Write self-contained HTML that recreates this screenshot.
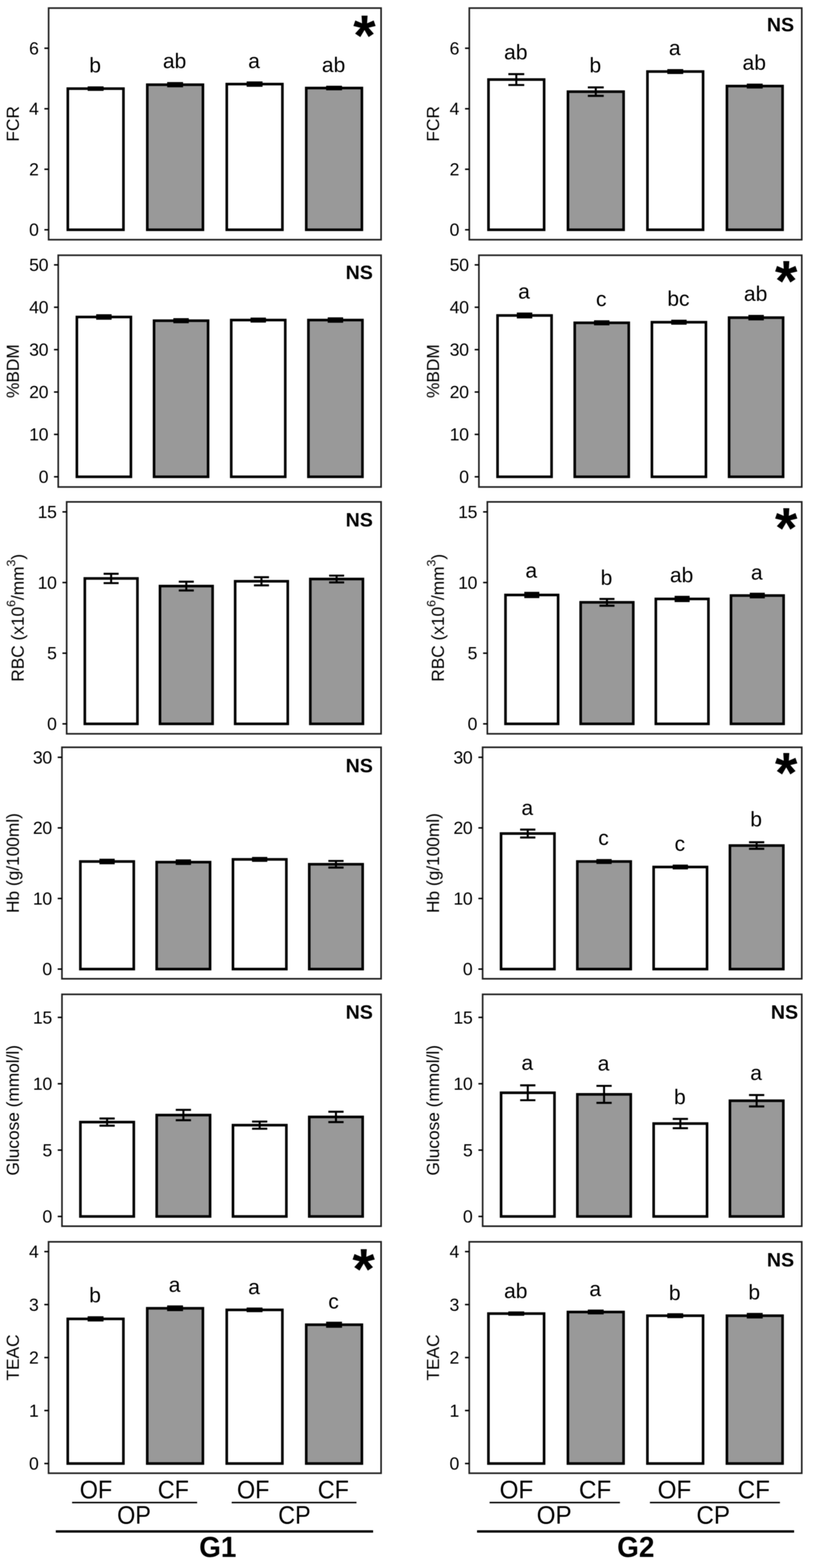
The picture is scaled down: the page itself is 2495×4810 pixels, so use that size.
<!DOCTYPE html>
<html lang="en">
<head>
<meta charset="utf-8">
<title>Figure</title>
<style>
html,body{margin:0;padding:0;background:#fff}
body{width:2495px;height:4810px;overflow:hidden}
svg{display:block}
text{font-family:"Liberation Sans",sans-serif;fill:#000}
.bar{stroke:#000;stroke-width:8;stroke-linejoin:miter}
.err{stroke:#000;stroke-width:6.2;fill:none}
.brd{fill:none;stroke:#222;stroke-width:5}
.tk{stroke:#000;stroke-width:4.5;fill:none}
.tl{font-size:54px;text-anchor:end;letter-spacing:-1px}
.ttl{font-size:53px}
.let{font-size:64.5px;text-anchor:middle}
.ns{font-size:60px;font-weight:bold;text-anchor:middle}
.st{font-size:177px;font-weight:bold;text-anchor:middle}
.xf{font-size:78px;text-anchor:middle}
.xp{font-size:78px;text-anchor:middle}
.xg{font-size:89px;font-weight:bold;text-anchor:middle}
.l1{stroke:#000;stroke-width:4.6;fill:none}
.l2{stroke:#000;stroke-width:7.3;fill:none}
</style>
</head>
<body>
<svg width="2495" height="4810" viewBox="0 0 2495 4810">
<defs><filter id="soft" x="-5%" y="-5%" width="110%" height="110%" color-interpolation-filters="sRGB"><feGaussianBlur stdDeviation="0.8"/></filter></defs>
<rect x="0" y="0" width="2495" height="4810" fill="#ffffff"/>
<g class="panel" id="L1" filter="url(#soft)">
<rect class="bar" x="208.11" y="271.89" width="170.74" height="432.96" fill="#ffffff"/>
<rect class="bar" x="452.02" y="259.83" width="170.74" height="445.02" fill="#999999"/>
<rect class="bar" x="695.94" y="257.97" width="170.74" height="446.88" fill="#ffffff"/>
<rect class="bar" x="939.85" y="270.04" width="170.74" height="434.81" fill="#999999"/>
<path class="err" d="M269.08 268.18H317.87M269.08 275.6H317.87M293.48 268.18V275.6"/>
<path class="err" d="M513 254.91H561.78M513 264.74H561.78M537.39 254.91V264.74"/>
<path class="err" d="M756.92 252.87H805.7M756.92 263.07H805.7M781.31 252.87V263.07"/>
<path class="err" d="M1000.83 266.14H1049.62M1000.83 273.93H1049.62M1025.22 266.14V273.93"/>
<text class="let" x="291.98" y="221.5">b</text>
<text class="let" x="535.89" y="209">ab</text>
<text class="let" x="779.81" y="208.5">a</text>
<text class="let" x="1023.72" y="221">ab</text>
<rect class="brd" x="149.2" y="24.8" width="1020.3" height="710.5"/>
<path class="tk" d="M136.2 704.85H149.2"/>
<text class="tl" x="118.2" y="723.45">0</text>
<path class="tk" d="M136.2 519.23H149.2"/>
<text class="tl" x="118.2" y="537.83">2</text>
<path class="tk" d="M136.2 333.61H149.2"/>
<text class="tl" x="118.2" y="352.21">4</text>
<path class="tk" d="M136.2 147.99H149.2"/>
<text class="tl" x="118.2" y="166.59">6</text>
<text class="ttl" transform="translate(57.8 380.05) rotate(-90)" text-anchor="middle">FCR</text>
<text class="st" x="1118.5" y="169">*</text>
</g>
<g class="panel" id="L2" filter="url(#soft)">
<rect class="bar" x="235.9" y="972.42" width="165.8" height="490.18" fill="#ffffff"/>
<rect class="bar" x="472.77" y="983.74" width="165.8" height="478.86" fill="#999999"/>
<rect class="bar" x="709.63" y="981.79" width="165.8" height="480.81" fill="#ffffff"/>
<rect class="bar" x="946.49" y="981.79" width="165.8" height="480.81" fill="#999999"/>
<path class="err" d="M295.12 967.22H342.49M295.12 977.63H342.49M318.8 967.22V977.63"/>
<path class="err" d="M531.98 979.19H579.35M531.98 988.29H579.35M555.67 979.19V988.29"/>
<path class="err" d="M768.85 977.24H816.22M768.85 986.34H816.22M792.53 977.24V986.34"/>
<path class="err" d="M1005.71 976.59H1053.08M1005.71 986.99H1053.08M1029.4 976.59V986.99"/>
<rect class="brd" x="178.7" y="783" width="990.8" height="710.9"/>
<path class="tk" d="M165.7 1462.6H178.7"/>
<text class="tl" x="147.7" y="1481.2">0</text>
<path class="tk" d="M165.7 1332.58H178.7"/>
<text class="tl" x="147.7" y="1351.18">10</text>
<path class="tk" d="M165.7 1202.56H178.7"/>
<text class="tl" x="147.7" y="1221.16">20</text>
<path class="tk" d="M165.7 1072.54H178.7"/>
<text class="tl" x="147.7" y="1091.14">30</text>
<path class="tk" d="M165.7 942.52H178.7"/>
<text class="tl" x="147.7" y="961.12">40</text>
<path class="tk" d="M165.7 812.5H178.7"/>
<text class="tl" x="147.7" y="831.1">50</text>
<text class="ttl" transform="translate(57.8 1138.45) rotate(-90)" text-anchor="middle">%BDM</text>
<text class="ns" x="1102.5" y="856">NS</text>
</g>
<g class="panel" id="L3" filter="url(#soft)">
<rect class="bar" x="260.31" y="1774.43" width="161.47" height="446.07" fill="#ffffff"/>
<rect class="bar" x="490.98" y="1797.84" width="161.47" height="422.66" fill="#999999"/>
<rect class="bar" x="721.65" y="1783.1" width="161.47" height="437.4" fill="#ffffff"/>
<rect class="bar" x="952.32" y="1776.16" width="161.47" height="444.34" fill="#999999"/>
<path class="err" d="M317.98 1760.12H364.11M317.98 1788.73H364.11M341.04 1760.12V1788.73"/>
<path class="err" d="M548.65 1784.4H594.78M548.65 1811.28H594.78M571.71 1784.4V1811.28"/>
<path class="err" d="M779.32 1770.53H825.45M779.32 1795.67H825.45M802.39 1770.53V1795.67"/>
<path class="err" d="M1009.99 1765.76H1056.12M1009.99 1786.57H1056.12M1033.06 1765.76V1786.57"/>
<rect class="brd" x="204.6" y="1539.6" width="964.9" height="711.4"/>
<path class="tk" d="M191.6 2220.5H204.6"/>
<text class="tl" x="173.6" y="2239.1">0</text>
<path class="tk" d="M191.6 2003.75H204.6"/>
<text class="tl" x="173.6" y="2022.35">5</text>
<path class="tk" d="M191.6 1787H204.6"/>
<text class="tl" x="173.6" y="1805.6">10</text>
<path class="tk" d="M191.6 1570.25H204.6"/>
<text class="tl" x="173.6" y="1588.85">15</text>
<text class="ttl" transform="translate(72.7 1895.3) rotate(-90)" text-anchor="middle">RBC (x10<tspan dy="-26.4" font-size="37.5">6</tspan><tspan dy="26.4">/mm</tspan><tspan dy="-26.4" font-size="37.5">3</tspan><tspan dy="26.4">)</tspan></text>
<text class="ns" x="1102.5" y="1614.5">NS</text>
</g>
<g class="panel" id="L4" filter="url(#soft)">
<rect class="bar" x="246.64" y="2642.73" width="163.9" height="330.02" fill="#ffffff"/>
<rect class="bar" x="480.78" y="2644.68" width="163.9" height="328.07" fill="#999999"/>
<rect class="bar" x="714.92" y="2636.23" width="163.9" height="336.52" fill="#ffffff"/>
<rect class="bar" x="949.06" y="2651.17" width="163.9" height="321.58" fill="#999999"/>
<path class="err" d="M305.18 2637.31H352.01M305.18 2648.14H352.01M328.59 2637.31V2648.14"/>
<path class="err" d="M539.32 2639.26H586.14M539.32 2650.09H586.14M562.73 2639.26V2650.09"/>
<path class="err" d="M773.46 2631.9H820.28M773.46 2640.56H820.28M796.87 2631.9V2640.56"/>
<path class="err" d="M1007.59 2641H1054.42M1007.59 2661.35H1054.42M1031.01 2641V2661.35"/>
<rect class="brd" x="190.1" y="2292.4" width="979.4" height="710.1"/>
<path class="tk" d="M177.1 2972.75H190.1"/>
<text class="tl" x="159.1" y="2991.35">0</text>
<path class="tk" d="M177.1 2756.2H190.1"/>
<text class="tl" x="159.1" y="2774.8">10</text>
<path class="tk" d="M177.1 2539.65H190.1"/>
<text class="tl" x="159.1" y="2558.25">20</text>
<path class="tk" d="M177.1 2323.1H190.1"/>
<text class="tl" x="159.1" y="2341.7">30</text>
<text class="ttl" transform="translate(57.8 2647.45) rotate(-90)" text-anchor="middle">Hb (g/100ml)</text>
<text class="ns" x="1102.5" y="2368.5">NS</text>
</g>
<g class="panel" id="L5" filter="url(#soft)">
<rect class="bar" x="246.74" y="3442.15" width="163.88" height="289.45" fill="#ffffff"/>
<rect class="bar" x="480.85" y="3420.58" width="163.88" height="311.02" fill="#999999"/>
<rect class="bar" x="714.97" y="3451.52" width="163.88" height="280.08" fill="#ffffff"/>
<rect class="bar" x="949.08" y="3426.28" width="163.88" height="305.32" fill="#999999"/>
<path class="err" d="M305.27 3431.16H352.09M305.27 3453.14H352.09M328.68 3431.16V3453.14"/>
<path class="err" d="M539.38 3404.7H586.2M539.38 3436.45H586.2M562.79 3404.7V3436.45"/>
<path class="err" d="M773.5 3440.52H820.32M773.5 3462.51H820.32M796.91 3440.52V3462.51"/>
<path class="err" d="M1007.61 3410.4H1054.43M1007.61 3442.15H1054.43M1031.02 3410.4V3442.15"/>
<rect class="brd" x="190.2" y="3050.25" width="979.3" height="711.25"/>
<path class="tk" d="M177.2 3731.6H190.2"/>
<text class="tl" x="159.2" y="3750.2">0</text>
<path class="tk" d="M177.2 3528.05H190.2"/>
<text class="tl" x="159.2" y="3546.65">5</text>
<path class="tk" d="M177.2 3324.5H190.2"/>
<text class="tl" x="159.2" y="3343.1">10</text>
<path class="tk" d="M177.2 3120.95H190.2"/>
<text class="tl" x="159.2" y="3139.55">15</text>
<text class="ttl" transform="translate(57.8 3405.88) rotate(-90)" text-anchor="middle">Glucose (mmol/l)</text>
<text class="ns" x="1102.5" y="3124.5">NS</text>
</g>
<g class="panel" id="L6" filter="url(#soft)">
<rect class="bar" x="207.92" y="4045.82" width="170.77" height="443.68" fill="#ffffff"/>
<rect class="bar" x="451.88" y="4013.32" width="170.77" height="476.18" fill="#999999"/>
<rect class="bar" x="695.84" y="4018.19" width="170.77" height="471.31" fill="#ffffff"/>
<rect class="bar" x="939.81" y="4063.7" width="170.77" height="425.8" fill="#999999"/>
<path class="err" d="M268.91 4040.94H317.7M268.91 4050.7H317.7M293.3 4040.94V4050.7"/>
<path class="err" d="M512.87 4007.63H561.66M512.87 4019H561.66M537.27 4007.63V4019"/>
<path class="err" d="M756.84 4014.13H805.63M756.84 4022.26H805.63M781.23 4014.13V4022.26"/>
<path class="err" d="M1000.8 4057.52H1049.59M1000.8 4069.87H1049.59M1025.2 4057.52V4069.87"/>
<text class="let" x="291.8" y="3994.5">b</text>
<text class="let" x="535.77" y="3962.5">a</text>
<text class="let" x="779.73" y="3970">a</text>
<text class="let" x="1023.7" y="4014">c</text>
<rect class="brd" x="149" y="3809.4" width="1020.5" height="709.85"/>
<path class="tk" d="M136 4489.5H149"/>
<text class="tl" x="118" y="4508.1">0</text>
<path class="tk" d="M136 4326.98H149"/>
<text class="tl" x="118" y="4345.58">1</text>
<path class="tk" d="M136 4164.46H149"/>
<text class="tl" x="118" y="4183.06">2</text>
<path class="tk" d="M136 4001.94H149"/>
<text class="tl" x="118" y="4020.54">3</text>
<path class="tk" d="M136 3839.42H149"/>
<text class="tl" x="118" y="3858.02">4</text>
<text class="ttl" transform="translate(57.8 4164.32) rotate(-90)" text-anchor="middle">TEAC</text>
<text class="st" x="1116" y="3953">*</text>
</g>
<g class="panel" id="R1" filter="url(#soft)">
<rect class="bar" x="1499.11" y="244.05" width="170.74" height="460.8" fill="#ffffff"/>
<rect class="bar" x="1743.02" y="281.17" width="170.74" height="423.68" fill="#999999"/>
<rect class="bar" x="1986.94" y="219.45" width="170.74" height="485.4" fill="#ffffff"/>
<rect class="bar" x="2230.85" y="264" width="170.74" height="440.85" fill="#999999"/>
<path class="err" d="M1560.08 227.34H1608.87M1560.08 260.75H1608.87M1584.48 227.34V260.75"/>
<path class="err" d="M1804 268.18H1852.78M1804 294.17H1852.78M1828.39 268.18V294.17"/>
<path class="err" d="M2047.92 215.09H2096.7M2047.92 223.82H2096.7M2072.31 215.09V223.82"/>
<path class="err" d="M2291.83 259.64H2340.62M2291.83 268.36H2340.62M2316.22 259.64V268.36"/>
<text class="let" x="1582.98" y="181.9">ab</text>
<text class="let" x="1826.89" y="222">b</text>
<text class="let" x="2070.81" y="169">a</text>
<text class="let" x="2314.72" y="214">ab</text>
<rect class="brd" x="1440.2" y="24.8" width="1020.3" height="710.5"/>
<path class="tk" d="M1427.2 704.85H1440.2"/>
<text class="tl" x="1408.7" y="723.45">0</text>
<path class="tk" d="M1427.2 519.23H1440.2"/>
<text class="tl" x="1408.7" y="537.83">2</text>
<path class="tk" d="M1427.2 333.61H1440.2"/>
<text class="tl" x="1408.7" y="352.21">4</text>
<path class="tk" d="M1427.2 147.99H1440.2"/>
<text class="tl" x="1408.7" y="166.59">6</text>
<text class="ttl" transform="translate(1347.3 380.05) rotate(-90)" text-anchor="middle">FCR</text>
<text class="ns" x="2395.3" y="95.5">NS</text>
</g>
<g class="panel" id="R2" filter="url(#soft)">
<rect class="bar" x="1526.9" y="967.74" width="165.8" height="494.86" fill="#ffffff"/>
<rect class="bar" x="1763.77" y="990.24" width="165.8" height="472.36" fill="#999999"/>
<rect class="bar" x="2000.63" y="988.42" width="165.8" height="474.18" fill="#ffffff"/>
<rect class="bar" x="2237.49" y="974.37" width="165.8" height="488.23" fill="#999999"/>
<path class="err" d="M1586.12 961.89H1633.49M1586.12 973.59H1633.49M1609.8 961.89V973.59"/>
<path class="err" d="M1822.98 985.69H1870.35M1822.98 994.79H1870.35M1846.67 985.69V994.79"/>
<path class="err" d="M2059.85 983.87H2107.22M2059.85 992.97H2107.22M2083.53 983.87V992.97"/>
<path class="err" d="M2296.71 969.17H2344.08M2296.71 979.58H2344.08M2320.4 969.17V979.58"/>
<text class="let" x="1608.3" y="916">a</text>
<text class="let" x="1845.17" y="939">c</text>
<text class="let" x="2082.03" y="937.5">bc</text>
<text class="let" x="2318.9" y="922.5">ab</text>
<rect class="brd" x="1469.7" y="783" width="990.8" height="710.9"/>
<path class="tk" d="M1456.7 1462.6H1469.7"/>
<text class="tl" x="1438.2" y="1481.2">0</text>
<path class="tk" d="M1456.7 1332.58H1469.7"/>
<text class="tl" x="1438.2" y="1351.18">10</text>
<path class="tk" d="M1456.7 1202.56H1469.7"/>
<text class="tl" x="1438.2" y="1221.16">20</text>
<path class="tk" d="M1456.7 1072.54H1469.7"/>
<text class="tl" x="1438.2" y="1091.14">30</text>
<path class="tk" d="M1456.7 942.52H1469.7"/>
<text class="tl" x="1438.2" y="961.12">40</text>
<path class="tk" d="M1456.7 812.5H1469.7"/>
<text class="tl" x="1438.2" y="831.1">50</text>
<text class="ttl" transform="translate(1347.3 1138.45) rotate(-90)" text-anchor="middle">%BDM</text>
<text class="st" x="2412.75" y="921.5">*</text>
</g>
<g class="panel" id="R3" filter="url(#soft)">
<rect class="bar" x="1551.31" y="1825.15" width="161.47" height="395.35" fill="#ffffff"/>
<rect class="bar" x="1781.98" y="1847.69" width="161.47" height="372.81" fill="#999999"/>
<rect class="bar" x="2012.65" y="1837.29" width="161.47" height="383.21" fill="#ffffff"/>
<rect class="bar" x="2243.32" y="1826.88" width="161.47" height="393.62" fill="#999999"/>
<path class="err" d="M1608.98 1818.65H1655.11M1608.98 1831.65H1655.11M1632.04 1818.65V1831.65"/>
<path class="err" d="M1839.65 1837.29H1885.78M1839.65 1858.09H1885.78M1862.71 1837.29V1858.09"/>
<path class="err" d="M2070.32 1830.78H2116.45M2070.32 1843.79H2116.45M2093.39 1830.78V1843.79"/>
<path class="err" d="M2300.99 1821.25H2347.12M2300.99 1832.52H2347.12M2324.06 1821.25V1832.52"/>
<text class="let" x="1630.54" y="1772">a</text>
<text class="let" x="1861.21" y="1794">b</text>
<text class="let" x="2091.89" y="1785.5">ab</text>
<text class="let" x="2322.56" y="1777.5">a</text>
<rect class="brd" x="1495.6" y="1539.6" width="964.9" height="711.4"/>
<path class="tk" d="M1482.6 2220.5H1495.6"/>
<text class="tl" x="1464.1" y="2239.1">0</text>
<path class="tk" d="M1482.6 2003.75H1495.6"/>
<text class="tl" x="1464.1" y="2022.35">5</text>
<path class="tk" d="M1482.6 1787H1495.6"/>
<text class="tl" x="1464.1" y="1805.6">10</text>
<path class="tk" d="M1482.6 1570.25H1495.6"/>
<text class="tl" x="1464.1" y="1588.85">15</text>
<text class="ttl" transform="translate(1362.2 1895.3) rotate(-90)" text-anchor="middle">RBC (x10<tspan dy="-26.4" font-size="37.5">6</tspan><tspan dy="26.4">/mm</tspan><tspan dy="-26.4" font-size="37.5">3</tspan><tspan dy="26.4">)</tspan></text>
<text class="st" x="2412.75" y="1679.5">*</text>
</g>
<g class="panel" id="R4" filter="url(#soft)">
<rect class="bar" x="1537.64" y="2556.97" width="163.9" height="415.78" fill="#ffffff"/>
<rect class="bar" x="1771.78" y="2642.73" width="163.9" height="330.02" fill="#999999"/>
<rect class="bar" x="2005.92" y="2659.62" width="163.9" height="313.13" fill="#ffffff"/>
<rect class="bar" x="2240.06" y="2593.79" width="163.9" height="378.96" fill="#999999"/>
<path class="err" d="M1596.18 2544.85H1643.01M1596.18 2569.1H1643.01M1619.59 2544.85V2569.1"/>
<path class="err" d="M1830.32 2638.4H1877.14M1830.32 2647.06H1877.14M1853.73 2638.4V2647.06"/>
<path class="err" d="M2064.46 2655.29H2111.28M2064.46 2663.95H2111.28M2087.87 2655.29V2663.95"/>
<path class="err" d="M2298.59 2583.61H2345.42M2298.59 2603.97H2345.42M2322.01 2583.61V2603.97"/>
<text class="let" x="1618.09" y="2500">a</text>
<text class="let" x="1852.23" y="2591.5">c</text>
<text class="let" x="2086.37" y="2609.5">c</text>
<text class="let" x="2320.51" y="2535">b</text>
<rect class="brd" x="1481.1" y="2292.4" width="979.4" height="710.1"/>
<path class="tk" d="M1468.1 2972.75H1481.1"/>
<text class="tl" x="1449.6" y="2991.35">0</text>
<path class="tk" d="M1468.1 2756.2H1481.1"/>
<text class="tl" x="1449.6" y="2774.8">10</text>
<path class="tk" d="M1468.1 2539.65H1481.1"/>
<text class="tl" x="1449.6" y="2558.25">20</text>
<path class="tk" d="M1468.1 2323.1H1481.1"/>
<text class="tl" x="1449.6" y="2341.7">30</text>
<text class="ttl" transform="translate(1347.3 2647.45) rotate(-90)" text-anchor="middle">Hb (g/100ml)</text>
<text class="st" x="2412.75" y="2430.8">*</text>
</g>
<g class="panel" id="R5" filter="url(#soft)">
<rect class="bar" x="1537.74" y="3352.18" width="163.88" height="379.42" fill="#ffffff"/>
<rect class="bar" x="1771.85" y="3357.07" width="163.88" height="374.53" fill="#999999"/>
<rect class="bar" x="2005.97" y="3446.63" width="163.88" height="284.97" fill="#ffffff"/>
<rect class="bar" x="2240.08" y="3376.61" width="163.88" height="354.99" fill="#999999"/>
<path class="err" d="M1596.27 3329.39H1643.09M1596.27 3374.98H1643.09M1619.68 3329.39V3374.98"/>
<path class="err" d="M1830.38 3331.01H1877.2M1830.38 3383.12H1877.2M1853.79 3331.01V3383.12"/>
<path class="err" d="M2064.5 3432.38H2111.32M2064.5 3460.88H2111.32M2087.91 3432.38V3460.88"/>
<path class="err" d="M2298.61 3359.1H2345.43M2298.61 3394.11H2345.43M2322.02 3359.1V3394.11"/>
<text class="let" x="1618.18" y="3282">a</text>
<text class="let" x="1852.29" y="3284">a</text>
<text class="let" x="2086.41" y="3387">b</text>
<text class="let" x="2320.52" y="3313">a</text>
<rect class="brd" x="1481.2" y="3050.25" width="979.3" height="711.25"/>
<path class="tk" d="M1468.2 3731.6H1481.2"/>
<text class="tl" x="1449.7" y="3750.2">0</text>
<path class="tk" d="M1468.2 3528.05H1481.2"/>
<text class="tl" x="1449.7" y="3546.65">5</text>
<path class="tk" d="M1468.2 3324.5H1481.2"/>
<text class="tl" x="1449.7" y="3343.1">10</text>
<path class="tk" d="M1468.2 3120.95H1481.2"/>
<text class="tl" x="1449.7" y="3139.55">15</text>
<text class="ttl" transform="translate(1347.3 3405.88) rotate(-90)" text-anchor="middle">Glucose (mmol/l)</text>
<text class="ns" x="2407.5" y="3124.5">NS</text>
</g>
<g class="panel" id="R6" filter="url(#soft)">
<rect class="bar" x="1498.92" y="4029.57" width="170.77" height="459.93" fill="#ffffff"/>
<rect class="bar" x="1742.88" y="4024.69" width="170.77" height="464.81" fill="#999999"/>
<rect class="bar" x="1986.84" y="4036.07" width="170.77" height="453.43" fill="#ffffff"/>
<rect class="bar" x="2230.81" y="4036.07" width="170.77" height="453.43" fill="#999999"/>
<path class="err" d="M1559.91 4025.99H1608.7M1559.91 4033.14H1608.7M1584.3 4025.99V4033.14"/>
<path class="err" d="M1803.87 4020.47H1852.66M1803.87 4028.92H1852.66M1828.27 4020.47V4028.92"/>
<path class="err" d="M2047.84 4031.68H2096.63M2047.84 4040.46H2096.63M2072.23 4031.68V4040.46"/>
<path class="err" d="M2291.8 4030.71H2340.59M2291.8 4041.43H2340.59M2316.2 4030.71V4041.43"/>
<text class="let" x="1582.8" y="3982">ab</text>
<text class="let" x="1826.77" y="3975.5">a</text>
<text class="let" x="2070.73" y="3987.5">b</text>
<text class="let" x="2314.7" y="3985.5">b</text>
<rect class="brd" x="1440" y="3809.4" width="1020.5" height="709.85"/>
<path class="tk" d="M1427 4489.5H1440"/>
<text class="tl" x="1408.5" y="4508.1">0</text>
<path class="tk" d="M1427 4326.98H1440"/>
<text class="tl" x="1408.5" y="4345.58">1</text>
<path class="tk" d="M1427 4164.46H1440"/>
<text class="tl" x="1408.5" y="4183.06">2</text>
<path class="tk" d="M1427 4001.94H1440"/>
<text class="tl" x="1408.5" y="4020.54">3</text>
<path class="tk" d="M1427 3839.42H1440"/>
<text class="tl" x="1408.5" y="3858.02">4</text>
<text class="ttl" transform="translate(1347.3 4164.32) rotate(-90)" text-anchor="middle">TEAC</text>
<text class="ns" x="2395.3" y="3885">NS</text>
</g>
<g class="bot" filter="url(#soft)">
<text class="xf" transform="translate(294.5 4596) scale(0.92 1)">OF</text>
<text class="xf" transform="translate(532 4596) scale(0.92 1)">CF</text>
<text class="xf" transform="translate(777 4596) scale(0.92 1)">OF</text>
<text class="xf" transform="translate(1023 4596) scale(0.92 1)">CF</text>
<path class="l1" d="M221.2 4609.2H605"/>
<text class="xp" transform="translate(411.25 4674.3) scale(0.92 1)">OP</text>
<path class="l1" d="M711 4609.2H1094"/>
<text class="xp" transform="translate(903.5 4674.3) scale(0.92 1)">CP</text>
<path class="l2" d="M171.3 4697.9H1145"/>
<text class="xg" transform="translate(668.3 4776.3) scale(0.963 1)">G1</text>
</g>
<g class="bot" filter="url(#soft)">
<text class="xf" transform="translate(1584.75 4596) scale(0.952 1)">OF</text>
<text class="xf" transform="translate(1826.25 4596) scale(0.952 1)">CF</text>
<text class="xf" transform="translate(2069.75 4596) scale(0.952 1)">OF</text>
<text class="xf" transform="translate(2313.25 4596) scale(0.952 1)">CF</text>
<path class="l1" d="M1502.5 4609.2H1902.5"/>
<text class="xp" transform="translate(1700.75 4674.3) scale(0.952 1)">OP</text>
<path class="l1" d="M1994.5 4609.2H2393.5"/>
<text class="xp" transform="translate(2188.75 4674.3) scale(0.952 1)">CP</text>
<path class="l2" d="M1464 4697.9H2437"/>
<text class="xg" transform="translate(1951.25 4776.3) scale(0.963 1)">G2</text>
</g>
</svg>
</body>
</html>
